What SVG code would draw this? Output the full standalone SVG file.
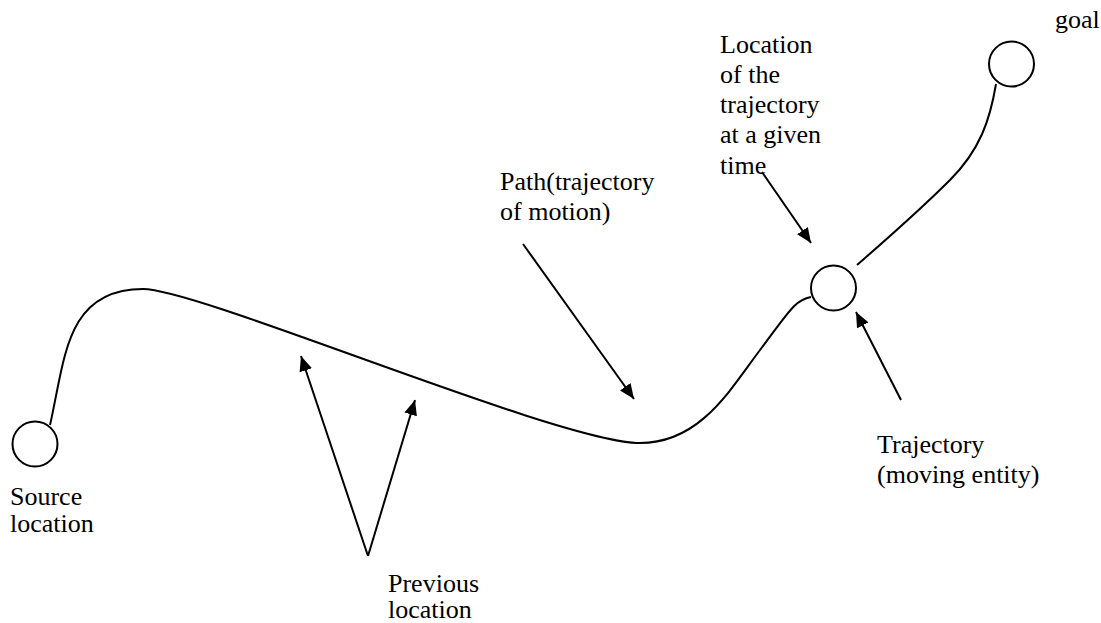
<svg xmlns="http://www.w3.org/2000/svg" width="1101" height="623" viewBox="0 0 1101 623">
  <style>
    .node { fill: #ffffff; stroke: #000000; stroke-width: 2; }
    .curve { fill: none; stroke: #000000; stroke-width: 2; }
    .arrow { fill: none; stroke: #000000; stroke-width: 2; marker-end: url(#head); }
    text { font-size: 26px; fill: #000000; }
  </style>
  <defs>
    <marker id="head" viewBox="0 0 15 13" refX="15" refY="6.5" markerUnits="userSpaceOnUse" markerWidth="15" markerHeight="13" orient="auto">
      <path d="M0,0 L15,6.5 L0,13 Z" fill="#000000"/>
    </marker>
  </defs>
  <rect width="1101" height="623" fill="#ffffff"/>

  <!-- path of motion and pointers -->
  <g id="connectors">
    <path class="curve" d="M50,425 C65,360 65,289 143,289 C200,289 560,443 640,443 C700,443 730,390 760,350 C790,310 795,300 811,297"/>
    <path class="curve" d="M996,84 C990,120 980,150 950,180 C920,210 880,245 857,265"/>
    <line class="arrow" x1="762" y1="172" x2="811" y2="243"/>
    <line class="arrow" x1="523" y1="244" x2="634" y2="399"/>
    <line class="arrow" x1="368" y1="556" x2="301" y2="356"/>
    <line class="arrow" x1="368" y1="556" x2="415" y2="400"/>
    <line class="arrow" x1="901" y1="400" x2="856" y2="312"/>
  </g>

  <g font-family="Liberation Serif, DejaVu Serif, serif">
    <g id="source">
      <circle class="node" cx="35" cy="444" r="22.5"/>
      <text x="10" y="505">Source</text>
      <text x="10" y="532">location</text>
    </g>

    <g id="trajectory">
      <circle class="node" cx="833.5" cy="288" r="22.5"/>
    </g>

    <g id="goal">
      <circle class="node" cx="1011.5" cy="64" r="22.5"/>
      <text x="1055" y="28">goal</text>
    </g>

    <g id="label-location-at-time">
      <text x="720" y="53">Location</text>
      <text x="720" y="83">of the</text>
      <text x="720" y="113">trajectory</text>
      <text x="720" y="143">at a given</text>
      <text x="720" y="174">time</text>
    </g>

    <g id="label-path">
      <text x="500" y="190">Path(trajectory</text>
      <text x="500" y="220">of motion)</text>
    </g>

    <g id="label-previous">
      <text x="388" y="592">Previous</text>
      <text x="388" y="618">location</text>
    </g>

    <g id="label-trajectory">
      <text x="877" y="453">Trajectory</text>
      <text x="877" y="483">(moving entity)</text>
    </g>
  </g>
</svg>
